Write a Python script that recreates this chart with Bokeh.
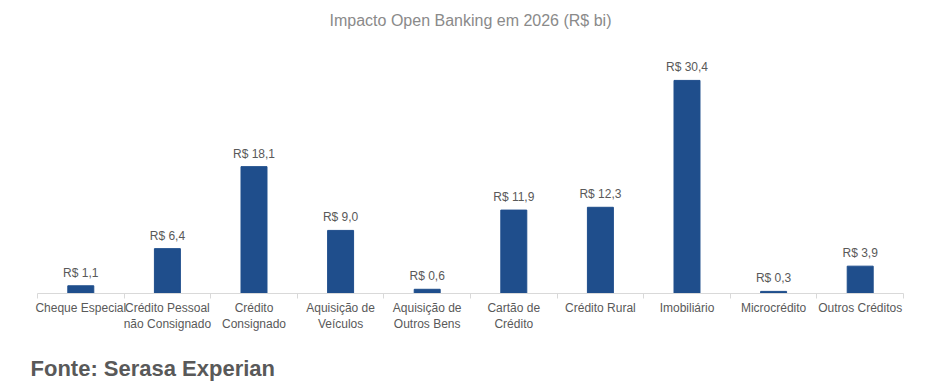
from bokeh.plotting import figure
from bokeh.models import Range1d, FixedTicker, ColumnDataSource, LabelSet, Title
from bokeh.core.properties import value
from bokeh.embed import file_html
from bokeh.resources import INLINE

categories = ["Cheque Especial", "Crédito Pessoal\nnão Consignado", "Crédito\nConsignado",
              "Aquisição de\nVeículos", "Aquisição de\nOutros Bens", "Cartão de\nCrédito",
              "Crédito Rural", "Imobiliário", "Microcrédito", "Outros Créditos"]
values = [1.1, 6.4, 18.1, 9.0, 0.6, 11.9, 12.3, 30.4, 0.3, 3.9]
value_labels = ["R$ " + f"{v:.1f}".replace(".", ",") for v in values]

xs = [i + 0.5 for i in range(len(categories))]
src = ColumnDataSource(dict(x=xs, top=values, lab=value_labels))

FONT = "Liberation Sans"
p = figure(width=934, height=389, output_backend="svg", toolbar_location=None,
           x_range=Range1d(0, len(categories)), y_range=Range1d(0, 35.38),
           min_border_left=37, min_border_right=31, min_border_top=45, min_border_bottom=96,
           title="Impacto Open Banking em 2026 (R$ bi)")
p.title.align = "center"
p.title.standoff = 0
p.title.text_color = "#8a8a8a"
p.title.text_font = FONT
p.title.text_font_size = "16px"
p.title.text_font_style = "normal"

top_spacer = Title(text=" ", text_font_size="1px", standoff=14)
p.add_layout(top_spacer, "above")

p.vbar(x="x", top="top", width=0.30, source=src, color="#1F4E8C")
p.add_layout(LabelSet(x="x", y="top", text="lab", source=src, text_align="center",
                      text_baseline="bottom", y_offset=6, text_font=value(FONT),
                      text_font_size=value("12px"), text_color=value("#595959")))

p.yaxis.visible = False
p.xgrid.visible = False
p.ygrid.visible = False
p.outline_line_color = None

ax = p.xaxis[0]
ax.ticker = FixedTicker(ticks=xs, minor_ticks=list(range(len(categories) + 1)))
ax.major_label_overrides = {x: c for x, c in zip(xs, categories)}
ax.axis_line_color = "#d9d9d9"
ax.major_tick_line_color = None
ax.major_tick_out = 0
ax.major_tick_in = 0
ax.minor_tick_line_color = "#d9d9d9"
ax.minor_tick_out = 5
ax.minor_tick_in = 0
ax.major_label_standoff = 2
ax.major_label_text_font = FONT
ax.major_label_text_font_size = "12px"
ax.major_label_text_color = "#595959"

bottom_spacer = Title(text=" ", text_font_size="1px", standoff=16)
p.add_layout(bottom_spacer, "below")
source_note = Title(text="Fonte: Serasa Experian", align="left", offset=-7, standoff=0,
                    text_font=FONT, text_font_size="22px", text_font_style="bold",
                    text_color="#595959")
p.add_layout(source_note, "below")

open("out.html", "w").write(file_html(p, INLINE))
